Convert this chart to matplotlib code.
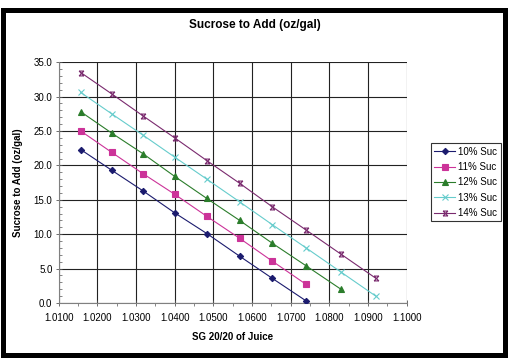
import matplotlib
matplotlib.use("Agg")
import matplotlib.pyplot as plt
from matplotlib.path import Path
from matplotlib.patches import Rectangle
from matplotlib.ticker import MultipleLocator, FormatStrFormatter

plt.rcParams['font.family'] = ['Liberation Sans', 'DejaVu Sans']

# Data
sg = [1.0157, 1.0237, 1.0318, 1.0400, 1.0483, 1.0568, 1.0652, 1.0740, 1.0830, 1.0920]
suc10 = [22.3, 19.3, 16.3, 13.1, 10.1, 6.8, 3.6, 0.3]
suc11 = [25.0, 21.9, 18.8, 15.8, 12.6, 9.4, 6.1, 2.7]
suc12 = [27.8, 24.7, 21.7, 18.4, 15.2, 12.0, 8.7, 5.4, 2.0]
suc13 = [30.6, 27.5, 24.4, 21.2, 18.0, 14.7, 11.4, 8.0, 4.5, 1.0]
suc14 = [33.5, 30.4, 27.2, 24.0, 20.7, 17.4, 14.0, 10.6, 7.1, 3.6]
labels = ['10% Suc', '11% Suc', '12% Suc', '13% Suc', '14% Suc']
title = 'Sucrose to Add (oz/gal)'
xlabel = 'SG 20/20 of Juice'
ylabel = 'Sucrose to Add (oz/gal)'

W, H = 519, 362
fig = plt.figure(figsize=(W / 100, H / 100), dpi=100)
fig.patch.set_facecolor('white')

# black frame
lw_px = 5
fig.patches.append(Rectangle((2.5 / W, 1 - 354.5 / H), (504.5 - 2.5) / W, (354.5 - 9.5) / H,
                             transform=fig.transFigure, fill=False, edgecolor='black',
                             linewidth=lw_px * 0.72, zorder=0))

ax = fig.add_axes([58.7 / W, 1 - 303 / H, 348 / W, 240.8 / H])

star = Path([(-1, -1), (1, 1), (-1, 1), (1, -1), (-1, 1), (1, 1), (-1, -1), (1, -1)],
            [Path.MOVETO, Path.LINETO, Path.MOVETO, Path.LINETO,
             Path.MOVETO, Path.LINETO, Path.MOVETO, Path.LINETO])

series = [
    (suc10, '#1b1b6e', 'D', 3.2),
    (suc11, '#cc3399', 's', 4.3),
    (suc12, '#2b7d2b', '^', 4.8),
    (suc13, '#66cccc', 'x', 4.0),
    (suc14, '#7a2a6e', star, 3.5),
]
for (vals, col, mk, ms), lab in zip(series, labels):
    ax.plot(sg[:len(vals)], vals, color=col, marker=mk, markersize=ms, linewidth=0.8,
            markeredgewidth=0.8, label=lab, zorder=3)

ax.set_xlim(1.01, 1.10)
ax.set_ylim(0, 35)
ax.xaxis.set_major_locator(MultipleLocator(0.01))
ax.xaxis.set_minor_locator(MultipleLocator(0.005))
ax.yaxis.set_major_locator(MultipleLocator(5))
ax.yaxis.set_minor_locator(MultipleLocator(1))
ax.xaxis.set_major_formatter(FormatStrFormatter('%.4f'))
ax.yaxis.set_major_formatter(FormatStrFormatter('%.1f'))
ax.grid(True, which='major', color='#222222', linewidth=0.8)
ax.set_axisbelow(True)
for s in ['top', 'right']:
    ax.spines[s].set_visible(False)
for s in ['left', 'bottom']:
    ax.spines[s].set_color('#808080')
    ax.spines[s].set_linewidth(0.8)
ax.tick_params(which='major', direction='inout', length=5, width=0.6, color='#555555',
               labelsize=7, pad=2)
ax.tick_params(axis='y', which='minor', direction='in', length=2, width=0.5, color='#555555')
ax.tick_params(axis='x', which='minor', direction='out', length=2, width=0.5, color='#555555')
ax.tick_params(axis='x', pad=5)

fig.text(255 / W, 1 - 25 / H, title, ha='center', va='center', fontsize=8.5, fontweight='bold')
ax.set_xlabel(xlabel, fontsize=7, fontweight='bold', labelpad=6)
ax.set_ylabel(ylabel, fontsize=7, fontweight='bold', labelpad=8)

leg = fig.legend(loc='upper left', bbox_to_anchor=(430.7 / W, 1 - 143.3 / H),
                 fontsize=7, frameon=True, fancybox=False, edgecolor='black',
                 handlelength=2.2, handletextpad=0.3, labelspacing=0.55,
                 borderpad=0.35, borderaxespad=0)
leg.get_frame().set_linewidth(0.8)

fig.savefig('out.png', dpi=100)
